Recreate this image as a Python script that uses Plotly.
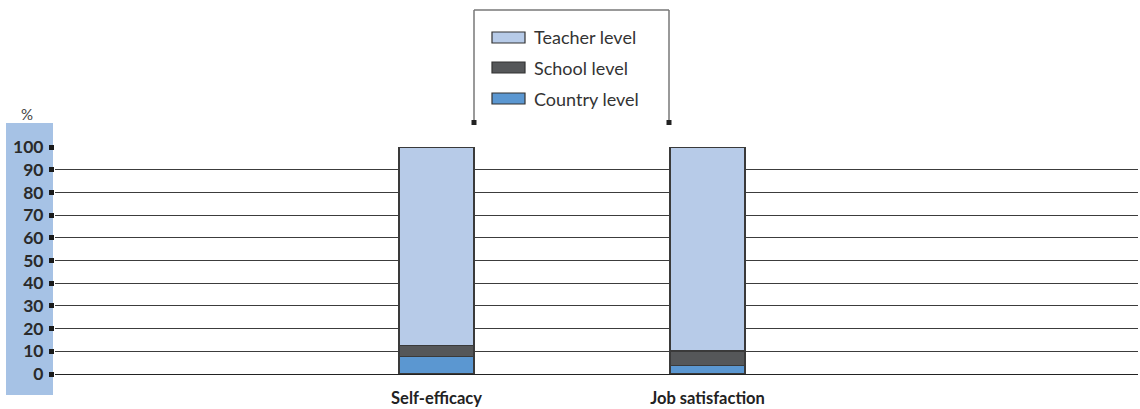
import plotly.graph_objects as go

# Share of variance in each outcome by level (%)
categories = ["Self-efficacy", "Job satisfaction"]
series_names = ["Country level", "School level", "Teacher level"]
country_level = [7.6, 3.8]
school_level = [5.0, 6.3]
teacher_level = [87.4, 89.9]
y_ticks = [0, 10, 20, 30, 40, 50, 60, 70, 80, 90, 100]

colors = {
    "Country level": "#5b97d1",
    "School level": "#555759",
    "Teacher level": "#b7cbe8",
}

W, H = 1140, 409
ML, MR, MT, MB = 55, 2, 147, 35
PW, PH = W - ML - MR, H - MT - MB


def px_x(x):
    return (x - ML) / PW


def px_y(y):
    return (H - MB - y) / PH


fig = go.Figure()
values = {"Country level": country_level, "School level": school_level,
          "Teacher level": teacher_level}
for name in series_names:
    fig.add_trace(go.Bar(
        x=categories, y=values[name], name=name,
        marker=dict(color=colors[name], line=dict(color="#3a3a3a", width=1.2)),
        width=0.277, showlegend=False,
    ))

shapes = []
# Shaded band behind the y-axis labels
shapes.append(dict(type="rect", xref="paper", yref="paper",
                   x0=px_x(6), x1=px_x(53), y0=px_y(395), y1=px_y(123),
                   fillcolor="#a6c2e5", line=dict(width=0), layer="below"))

# Legend frame (open at the bottom, with small end markers)
frame = dict(color="#777777", width=1.5)
shapes.append(dict(type="line", xref="paper", yref="paper",
                   x0=px_x(474), x1=px_x(669), y0=px_y(10), y1=px_y(10), line=frame))
for xx in (474, 669):
    shapes.append(dict(type="line", xref="paper", yref="paper",
                       x0=px_x(xx), x1=px_x(xx), y0=px_y(10), y1=px_y(122), line=frame))
    shapes.append(dict(type="rect", xref="paper", yref="paper",
                       x0=px_x(xx - 2.5), x1=px_x(xx + 2.5),
                       y0=px_y(125), y1=px_y(120),
                       fillcolor="#222222", line=dict(width=0)))

annotations = []
legend_rows = [("Teacher level", 37.5), ("School level", 67.5), ("Country level", 98.5)]
for name, yc in legend_rows:
    shapes.append(dict(type="rect", xref="paper", yref="paper",
                       x0=px_x(492), x1=px_x(525), y0=px_y(yc + 5.5), y1=px_y(yc - 5.5),
                       fillcolor=colors[name], line=dict(color="#333333", width=1.2)))
    annotations.append(dict(xref="paper", yref="paper", x=px_x(532), y=px_y(yc),
                            text=name, showarrow=False, xanchor="left", yanchor="middle",
                            font=dict(family="Lato, sans-serif", size=18, color="#333333")))

annotations.append(dict(xref="paper", yref="paper", x=px_x(27), y=px_y(114),
                        text="%", showarrow=False, xanchor="center", yanchor="middle",
                        font=dict(family="Lato, sans-serif", size=15, color="#444444")))

fig.update_layout(
    width=W, height=H,
    margin=dict(l=ML, r=MR, t=MT, b=MB, pad=0),
    barmode="stack",
    plot_bgcolor="white", paper_bgcolor="white",
    shapes=shapes, annotations=annotations,
    xaxis=dict(
        type="category", range=[-1.408, 2.589], showgrid=False,
        showline=False, ticks="", zeroline=False,
        tickfont=dict(family="Lato, sans-serif", size=16.5, color="#222222", weight="bold"),
        ticklabelstandoff=12,
    ),
    yaxis=dict(
        range=[0, 100], tickvals=y_ticks, ticktext=[str(v) for v in y_ticks],
        showgrid=True, gridcolor="#3c3c3c", gridwidth=1,
        zeroline=True, zerolinecolor="#222222", zerolinewidth=1,
        showline=False,
        ticks="outside", ticklen=5, tickwidth=5, tickcolor="#1a1a1a",
        tickfont=dict(family="Lato, sans-serif", size=17.5, color="#2a2a2a", weight="bold"),
        ticklabelstandoff=2,
    ),
    font=dict(family="Lato, sans-serif"),
)

fig.write_html("out.html")
